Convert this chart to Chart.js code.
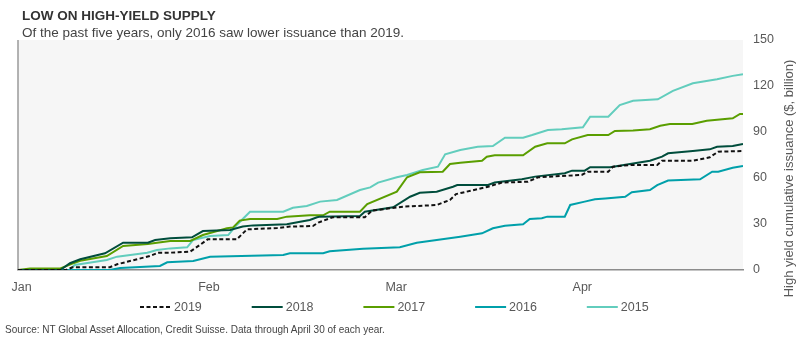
<!DOCTYPE html>
<html>
<head>
<meta charset="utf-8">
<script src="https://cdn.jsdelivr.net/npm/chart.js@4.4.0/dist/chart.umd.min.js"></script>
<style>
  html, body { margin: 0; padding: 0; background: #fff; }
  #wrap { position: relative; width: 800px; height: 348px; overflow: hidden; font-family: 'Liberation Sans', Arial, sans-serif; }
  #wrap canvas { position: absolute; left: 0; top: 0; }
  .title { position: absolute; left: 22px; top: 8.5px; font-size: 13.5px; line-height: 1; font-weight: bold; color: #333; }
  .subtitle { position: absolute; left: 22px; top: 25.5px; font-size: 13.5px; line-height: 1; color: #444; }
  .source { position: absolute; left: 5px; top: 324px; font-size: 11px; line-height: 1; color: #444; white-space: nowrap; transform: scaleX(0.91); transform-origin: left center; }
</style>
</head>
<body>
<div id="wrap">
  <canvas id="issuanceChart" width="800" height="348"></canvas>
  <div class="title">LOW ON HIGH-YIELD SUPPLY</div>
  <div class="subtitle">Of the past five years, only 2016 saw lower issuance than 2019.</div>
  <div class="source">Source: NT Global Asset Allocation, Credit Suisse. Data through April 30 of each year.</div>
</div>
<script>
// 月份刻度（x 轴以自年初起的天数计，0 ~ 120）
const monthLabels = ['Jan', 'Feb', 'Mar', 'Apr'];
const monthTicks = [0.6, 31.6, 62.6, 93.4];

// 各年累计发行量（十亿美元）
const x2019 = [0, 8, 9, 15.2, 16.4, 21.8, 23.2, 25.2, 28.5, 30.1, 31.4, 36.2, 37.9, 42.9, 45, 48.8, 49.7, 52.1, 57.4, 58.6, 63.7, 69.3, 71.5, 72.5, 73.5, 77.8, 80.1, 84.4, 86.1, 93.3, 94.3, 97.7, 98.5, 101.3, 105.8, 106.6, 111.7, 114.5, 115.9, 120];
const y2019 = [0, 0, 1.8, 1.8, 3.7, 9.1, 11.3, 11.3, 12, 16.3, 20, 20, 26.5, 27.4, 28.3, 28.7, 30.9, 34.4, 34.4, 38.7, 41.3, 42.4, 45.7, 49.5, 50.4, 54.3, 57, 57.6, 60.5, 62, 64.1, 64.1, 67.4, 68.5, 68.5, 71.3, 71.3, 73.5, 77.2, 77.6];

const x2018 = [0, 7, 8.6, 10.3, 14.4, 17.4, 21.5, 22.7, 25.2, 28.8, 30.6, 35.1, 37.2, 38.9, 44.5, 46.7, 48.3, 49.5, 50, 56.6, 57.4, 62.1, 64.9, 66.5, 69.3, 72, 72.7, 77.8, 78.9, 83.4, 85.6, 90.5, 91.7, 93.8, 94.7, 98, 101.3, 104.6, 106.6, 107.6, 111.7, 114.5, 115.7, 118.3, 120];
const y2018 = [0, 0, 4.4, 7, 10.9, 17.8, 17.8, 19.6, 20.7, 21.3, 25.4, 26.1, 28.3, 29.1, 29.8, 31.5, 32.6, 34.4, 34.8, 35.2, 38, 40.9, 47.8, 50.4, 51.1, 54.3, 55.4, 55.4, 57, 59.2, 60.9, 63.1, 64.8, 64.8, 67, 67, 69.1, 71.3, 73.9, 76.1, 77.6, 78.7, 80.4, 80.9, 82.2];

const x2017 = [0, 2, 7, 8.9, 10.3, 14.7, 17.4, 21.5, 23, 25.2, 28.5, 30.6, 34.6, 35.6, 36.7, 38.4, 42.9, 44.5, 48.3, 50.5, 51.6, 56.6, 57.8, 62.7, 64.4, 66.5, 70.3, 71.5, 73.2, 76.8, 77.6, 78.9, 83.6, 85.6, 87.6, 90.5, 91.7, 94.3, 97.7, 98.8, 101.8, 104.6, 106.3, 107.9, 111.6, 114, 118.3, 119.5, 120];
const y2017 = [0, 1, 1, 4, 6, 9.1, 15.7, 16.9, 17.8, 18.9, 18.9, 22.8, 27.2, 27.8, 32.2, 33.3, 33.3, 34.8, 35.7, 35.7, 38, 38, 43, 51.1, 60.5, 63.7, 64.1, 69.1, 70, 71.3, 73.9, 74.8, 74.8, 80.4, 82.6, 82.6, 85.2, 88, 88, 90.7, 91, 91.8, 94.1, 95.2, 95.2, 97.4, 98.9, 101.8, 101.8];

const x2016 = [0, 15.2, 16.9, 23.5, 24.7, 29, 31.8, 43.9, 45, 50.5, 51.6, 57.1, 63.2, 66, 69.3, 73.2, 76.8, 78.6, 80.6, 83.6, 84.7, 86.7, 87.6, 90.5, 91.4, 93.8, 95.5, 97.2, 100.5, 101.6, 104.6, 105.8, 107.6, 112.9, 114.9, 115.9, 118.3, 120];
const y2016 = [0, 0, 1.3, 2.6, 5, 5.9, 8.7, 9.8, 10.9, 10.9, 12.2, 13.9, 14.8, 17.8, 19.6, 21.7, 23.9, 27.2, 28.9, 29.8, 33.3, 33.7, 34.8, 34.8, 42.4, 44.6, 46.1, 46.7, 47.8, 50.7, 52.2, 55.4, 58.3, 59.2, 64.1, 64.1, 66.7, 67.8];

const x2015 = [0, 8.5, 9.4, 14.7, 16.4, 21.4, 23, 25.2, 28, 29, 31.8, 34.8, 36.2, 38.4, 43.9, 45.5, 47.8, 50, 52.8, 56.6, 58.3, 59.6, 62.7, 64.4, 67, 69.5, 70.7, 73.2, 76.1, 78.6, 80.6, 83.6, 85.1, 87.7, 90, 93.5, 94.7, 97.7, 99.6, 101.8, 105.9, 108.4, 111.7, 115.7, 118.3, 120];
const y2015 = [0, 0, 3.3, 6.5, 8.7, 11.3, 13, 14.1, 14.8, 19.6, 22.2, 22.8, 29.4, 38, 38, 40.6, 41.7, 44.6, 45.7, 52.2, 53.9, 57, 60.5, 62, 65.2, 67.4, 75.5, 78.3, 80.4, 80.9, 86.3, 86.3, 88, 91.3, 91.8, 93.1, 100, 100, 107.6, 110.4, 111.3, 116.8, 121.8, 124.4, 126.6, 127.7];

const yTicks = { min: 0, max: 150, step: 30 };

const baseFamily = "'Liberation Sans', Arial, sans-serif";
const tickFont = { family: baseFamily, size: 12.5 };
const axisColor = '#595959';

function toPoints(xs, ys) {
    return xs.map((x, i) => ({ x: x, y: ys[i] }));
}

function lineSet(label, xs, ys, color, dash) {
    return {
        label: label,
        data: toPoints(xs, ys),
        borderColor: color,
        backgroundColor: color,
        borderWidth: 2,
        borderDash: dash || [],
        pointRadius: 0,
        pointHoverRadius: 0,
        tension: 0,
        fill: false
    };
}

// 绘图区灰色背景 + 左侧竖线
const plotBackground = {
    id: 'plotBackground',
    beforeDraw(chart) {
        const { ctx, chartArea: a } = chart;
        ctx.save();
        ctx.fillStyle = '#f6f6f6';
        ctx.fillRect(a.left, a.top, a.right - a.left, a.bottom - a.top);
        ctx.strokeStyle = '#9a9a9a';
        ctx.lineWidth = 1.5;
        ctx.beginPath();
        ctx.moveTo(a.left, a.top);
        ctx.lineTo(a.left, a.bottom);
        ctx.stroke();
        ctx.restore();
    }
};

// 右侧纵轴标题（自下而上）
const rightAxisTitle = {
    id: 'rightAxisTitle',
    afterDraw(chart, args, opts) {
        const { ctx } = chart;
        ctx.save();
        ctx.translate(opts.x, opts.y);
        ctx.rotate(-Math.PI / 2);
        ctx.font = opts.font;
        ctx.fillStyle = axisColor;
        ctx.textAlign = 'center';
        ctx.textBaseline = 'middle';
        ctx.fillText(opts.text, 0, 0);
        ctx.restore();
    }
};

// 底部图例：线段 + 年份，固定间距
const bottomLegend = {
    id: 'bottomLegend',
    afterDraw(chart, args, opts) {
        const { ctx } = chart;
        ctx.save();
        ctx.font = opts.font;
        chart.data.datasets.forEach((ds, i) => {
            const x = opts.startX + i * opts.pitch;
            ctx.strokeStyle = ds.borderColor;
            ctx.lineWidth = ds.borderWidth;
            ctx.setLineDash(ds.borderDash || []);
            ctx.beginPath();
            ctx.moveTo(x, opts.y);
            ctx.lineTo(x + opts.sampleWidth, opts.y);
            ctx.stroke();
            ctx.setLineDash([]);
            ctx.fillStyle = axisColor;
            ctx.textBaseline = 'middle';
            ctx.fillText(ds.label, x + opts.sampleWidth + opts.gap, opts.y + 1);
        });
        ctx.restore();
    }
};

const ctx = document.getElementById('issuanceChart').getContext('2d');
const issuanceChart = new Chart(ctx, {
    type: 'line',
    data: {
        datasets: [
            lineSet('2019', x2019, y2019, '#111111', [4, 2.5]),
            lineSet('2018', x2018, y2018, '#004d3c'),
            lineSet('2017', x2017, y2017, '#5a9e00'),
            lineSet('2016', x2016, y2016, '#00a0aa'),
            lineSet('2015', x2015, y2015, '#62cdbd')
        ]
    },
    options: {
        responsive: false,
        animation: false,
        layout: {
            padding: { left: 18, top: 40, right: 0, bottom: 54 }
        },
        plugins: {
            legend: { display: false },
            tooltip: { enabled: false },
            rightAxisTitle: {
                text: 'High yield cumulative issuance ($, billion)',
                font: '13px ' + baseFamily,
                x: 789,
                y: 178.5
            },
            bottomLegend: {
                font: '12.5px ' + baseFamily,
                sampleWidth: 31,
                gap: 3,
                startX: 140,
                pitch: 111.7,
                y: 307
            }
        },
        scales: {
            x: {
                type: 'linear',
                min: 0,
                max: 120,
                afterBuildTicks: function(scale) {
                    scale.ticks = monthTicks.map(v => ({ value: v }));
                },
                afterFit: function(scale) {
                    scale.height = 24;
                },
                grid: { display: false, drawTicks: false },
                border: { display: true, color: '#8c8c8c', width: 1.5 },
                ticks: {
                    autoSkip: false,
                    maxRotation: 0,
                    padding: 10,
                    color: axisColor,
                    font: tickFont,
                    callback: function(value, index) {
                        return monthLabels[index];
                    }
                }
            },
            y: {
                position: 'right',
                min: yTicks.min,
                max: yTicks.max,
                afterFit: function(scale) {
                    scale.width = 57;
                },
                grid: { display: false, drawTicks: false },
                border: { display: false },
                ticks: {
                    stepSize: yTicks.step,
                    padding: 10,
                    color: axisColor,
                    font: tickFont
                }
            }
        }
    },
    plugins: [plotBackground, rightAxisTitle, bottomLegend]
});
</script>
</body>
</html>
